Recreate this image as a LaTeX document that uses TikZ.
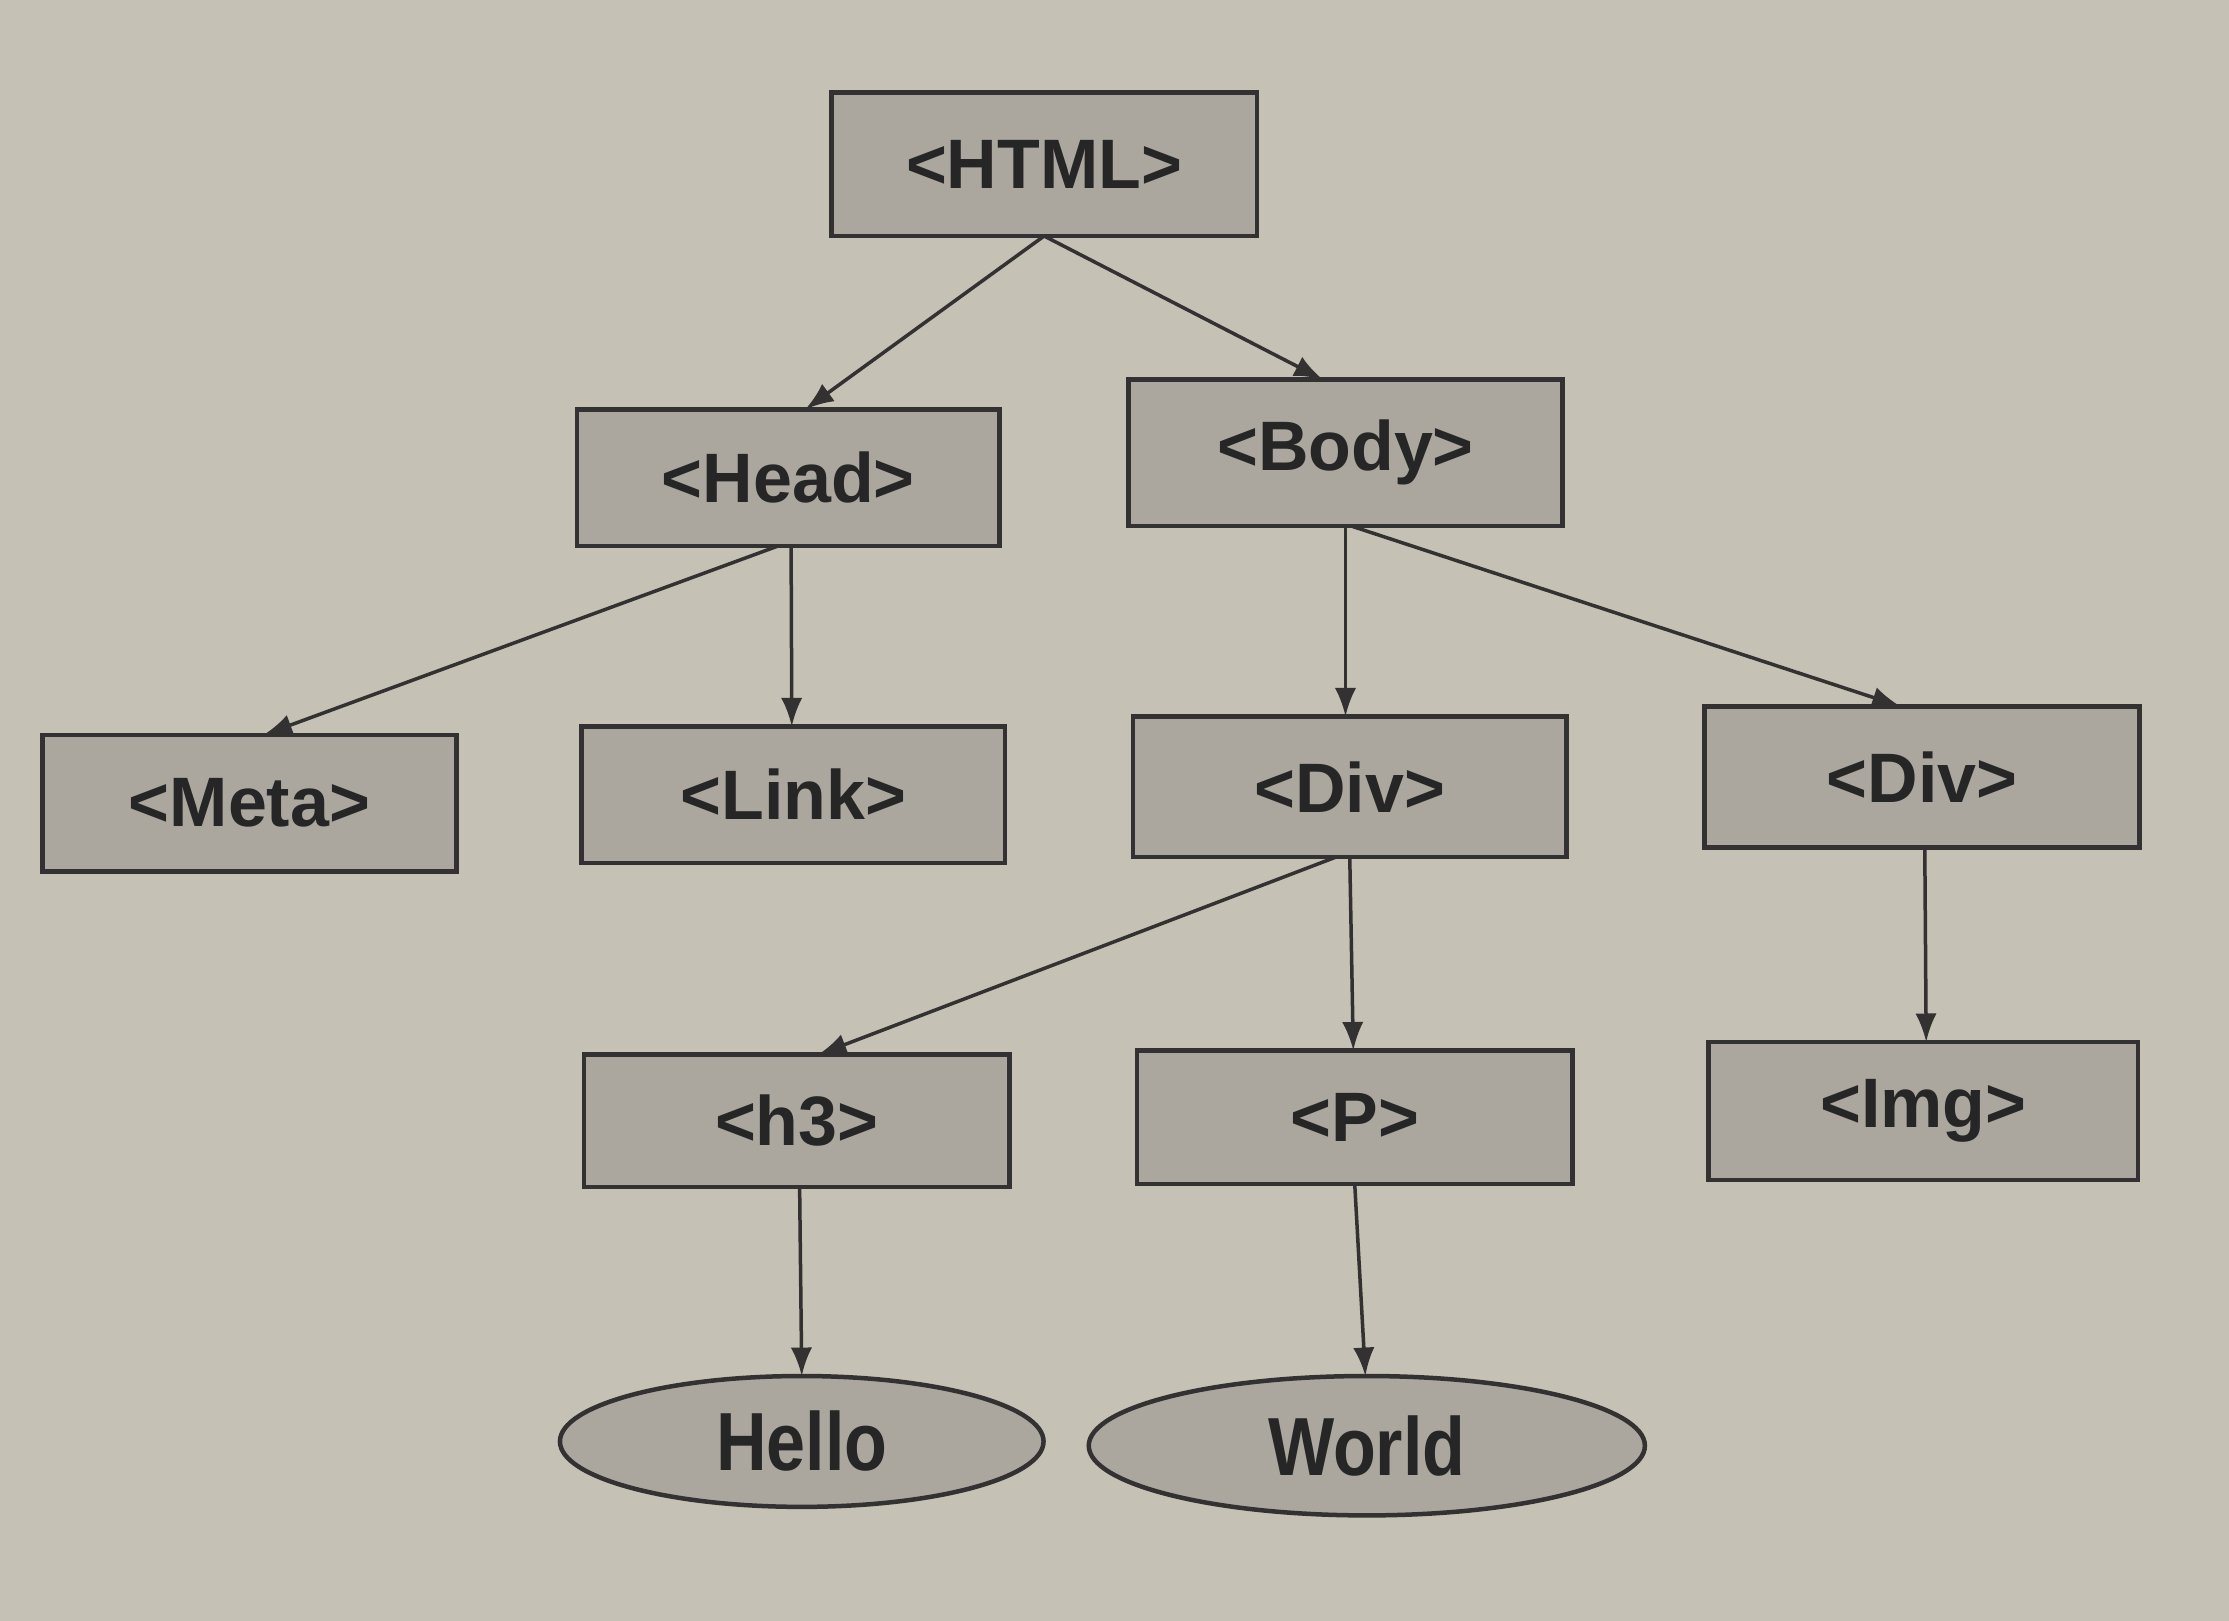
\documentclass[tikz,border=0pt]{standalone}
\usepackage{fontspec}
\setmainfont{Liberation Sans}
\newfontfamily\narrowfont[FakeStretch=0.85]{Liberation Sans}
\usetikzlibrary{arrows.meta,shapes.geometric,calc}
\definecolor{paper}{HTML}{C6C1B5}
\definecolor{boxfill}{HTML}{ABA79E}
\definecolor{ink}{HTML}{333131}
\begin{document}
\begin{tikzpicture}[x=0.01cm,y=-0.01cm,
  tagbox/.style={draw=ink,line width=0.9pt,fill=boxfill,rectangle,inner sep=0pt,outer sep=0pt,
    font=\fontsize{14}{16}\selectfont\bfseries,text=black!85},
  leaf/.style={draw=ink,line width=0.9pt,fill=boxfill,ellipse,inner sep=0pt,outer sep=0pt,
    font=\narrowfont\fontsize{16.5}{18}\selectfont\bfseries,text=black!85},
  link/.style={draw=ink,line width=0.7pt,-{Latex[length=0.2cm,width=0.15cm]}}]
\fill[paper] (0,0) rectangle (1568,1140);
\useasboundingbox (0,0) rectangle (1568,1140);
\node[tagbox,minimum width=2.99cm,minimum height=1.01cm] (html) at (734.5,115.5) {<HTML>};
\node[tagbox,minimum width=2.97cm,minimum height=0.96cm] (head) at (554.5,336) {<Head>};
\node[tagbox,minimum width=3.05cm,minimum height=1.03cm] (body) at (946.5,318.5) {<Body>};
\node[tagbox,minimum width=2.91cm,minimum height=0.96cm] (meta) at (175.5,565) {<Meta>};
\node[tagbox,minimum width=2.98cm,minimum height=0.96cm] (lnk) at (558,559) {<Link>};
\node[tagbox,minimum width=3.05cm,minimum height=0.99cm] (diva) at (949.5,553.5) {<Div>};
\node[tagbox,minimum width=3.06cm,minimum height=0.99cm] (divb) at (1352,546.5) {<Div>};
\node[tagbox,minimum width=2.99cm,minimum height=0.93cm] (hthree) at (560.5,788.5) {<h3>};
\node[tagbox,minimum width=3.06cm,minimum height=0.94cm] (para) at (953,786) {<P>};
\node[tagbox,minimum width=3.02cm,minimum height=0.97cm] (img) at (1353,781.5) {<Img>};
\node[leaf,minimum width=3.40cm,minimum height=0.92cm] (hello) at (564,1014) {Hello};
\node[leaf,minimum width=3.91cm,minimum height=0.98cm] (world) at (961.5,1017) {World};
\draw[link] (html.south) -- ($(head.north)+(12,0)$);
\draw[link] (html.south) -- ($(body.north)+(-16,0)$);
\draw[link] ($(head.south)+(-7,0)$) -- ($(meta.north)+(10,0)$);
\draw[link] ($(head.south)+(2,0)$) -- ($(lnk.north)+(-1,0)$);
\draw[link] (body.south) -- ($(diva.north)+(-3,0)$);
\draw[link] ($(body.south)+(4,0)$) -- ($(divb.north)+(-15,0)$);
\draw[link] ($(diva.south)+(-10,0)$) -- ($(hthree.north)+(15,0)$);
\draw[link] (diva.south) -- ($(para.north)+(-1,0)$);
\draw[link] ($(divb.south)+(2,0)$) -- ($(img.north)+(2,0)$);
\draw[link] ($(hthree.south)+(2,0)$) -- (hello.north);
\draw[link] (para.south) -- ($(world.north)+(-1,0)$);
\end{tikzpicture}
\end{document}
